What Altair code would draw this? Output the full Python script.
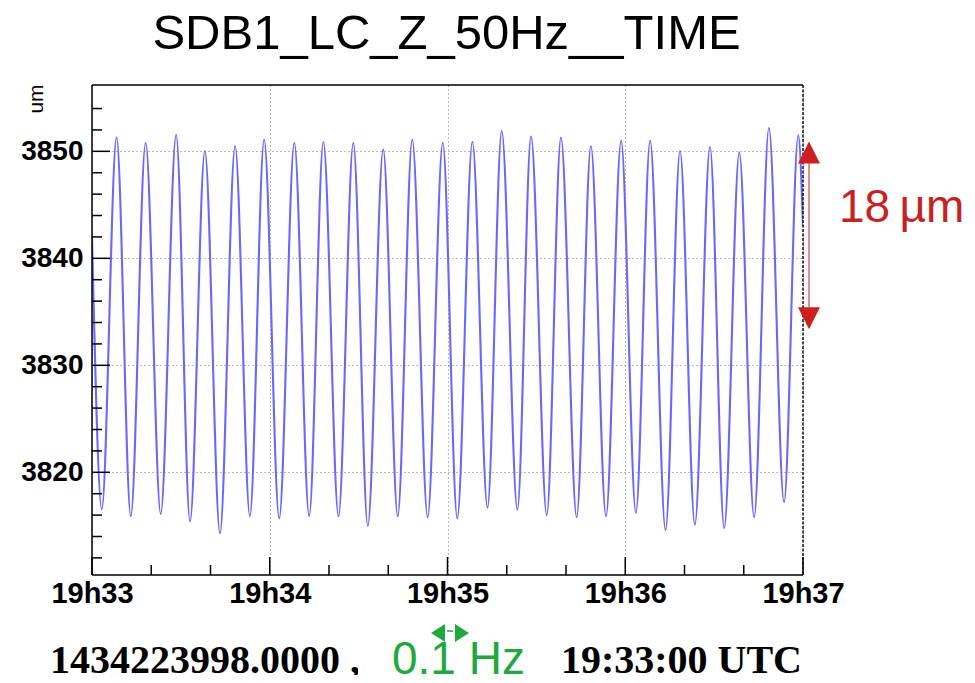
import altair as alt
import pandas as pd

# ---------------- data ----------------
title_text = "SDB1_LC_Z_50Hz__TIME"
y_unit = "um"

x_tick_seconds = [0, 60, 120, 180, 240]
x_tick_labels = ["19h33", "19h34", "19h35", "19h36", "19h37"]
x_minor_seconds = [20, 40, 80, 100, 140, 160, 200, 220]
y_major = [3820, 3830, 3840, 3850]
y_minor = [3812, 3814, 3816, 3818, 3822, 3824, 3826, 3828, 3832, 3834,
           3836, 3838, 3842, 3844, 3846, 3848, 3852, 3854]

# seconds after 19:33:00 and value (um) of each local maximum / minimum
peak_t = [8.3, 18.1, 28.4, 38.1, 48.3, 58.1, 68.3, 78.1, 88.2, 98.3, 108.1, 118.4,
          128.4, 138.3, 148.2, 158.3, 168.4, 178.6, 188.4, 198.5, 208.6, 218.5, 228.5, 238.4]
peak_v = [3851.3, 3850.8, 3851.55, 3850.05, 3850.5, 3851.1, 3850.8, 3850.9, 3850.8, 3850.2, 3851.1, 3850.8,
          3850.9, 3851.9, 3851.4, 3851.3, 3850.5, 3851.0, 3851.0, 3850.05, 3850.4, 3849.9, 3852.2, 3851.5]
trough_t = [3.3, 13.1, 23.2, 33.1, 43.2, 53.3, 63.2, 73.3, 83.2, 93.1, 103.2, 113.3,
            123.3, 133.5, 143.6, 153.5, 163.6, 173.5, 183.6, 193.6, 203.5, 213.4, 223.5, 233.6]
trough_v = [3816.55, 3815.9, 3816.1, 3815.4, 3814.3, 3815.9, 3815.7, 3815.9, 3815.9, 3815.0, 3815.9, 3815.8,
            3815.7, 3816.7, 3816.5, 3816.0, 3815.8, 3815.9, 3816.2, 3814.6, 3815.1, 3814.8, 3815.8, 3817.2]
edge_t = [0, 240]
edge_v = [3842.0, 3843.0]

arrow_value = "18\u2009µm"
arrow_top_v = 3849.9      # centre of upper arrow head
arrow_bottom_v = 3834.4   # centre of lower arrow head
arrow_line_v = [3849.0, 3835.4]

footer_left = "1434223998.0000 ,"
footer_right = "5 19:33:00 UTC"
freq_text = "0.1 Hz"

# ---------------- layout ----------------
W, H = 711, 490
FONT = "Liberation Sans"

x_scale = alt.Scale(domain=[0, 240], nice=False, zero=False)
y_scale = alt.Scale(domain=[3810.4, 3856.2], nice=False, zero=False)

series = pd.DataFrame({
    "t": edge_t[:1] + peak_t + trough_t + edge_t[1:],
    "v": edge_v[:1] + peak_v + trough_v + edge_v[1:],
}).sort_values("t")

label_list = "[" + ",".join("'%s'" % s for s in x_tick_labels) + "]"

line = alt.Chart(series).mark_line(
    interpolate="monotone", color="#6868ff", strokeWidth=2.1, clip=True
).encode(
    x=alt.X("t:Q", scale=x_scale, axis=alt.Axis(
        values=x_tick_seconds, labelExpr=label_list + "[round(datum.value/60)]",
        title=None, ticks=False, domain=False, grid=True, gridDash=[1, 3],
        gridColor="#777777", gridWidth=1, labelFont=FONT, labelFontSize=29,
        labelFontWeight="bold", labelColor="black", labelPadding=4,
        labelOverlap=False, labelFlush=False)),
    y=alt.Y("v:Q", scale=y_scale, axis=alt.Axis(
        values=y_major, format="d", title=None, ticks=False, domain=False, grid=True,
        gridDash=[1, 3], gridColor="#777777", gridWidth=1, labelFont=FONT,
        labelFontSize=28, labelFontWeight="bold", labelColor="black",
        labelPadding=9)),
)

ymaj = alt.Chart(pd.DataFrame({"v": y_major})).mark_rule(color="black", strokeWidth=1.5).encode(
    y=alt.Y("v:Q", scale=y_scale), x=alt.value(0), x2=alt.value(18))
ymin = alt.Chart(pd.DataFrame({"v": y_minor})).mark_rule(color="black", strokeWidth=1.5).encode(
    y=alt.Y("v:Q", scale=y_scale), x=alt.value(0), x2=alt.value(10))
xmaj = alt.Chart(pd.DataFrame({"t": x_tick_seconds})).mark_rule(color="black", strokeWidth=1.5).encode(
    x=alt.X("t:Q", scale=x_scale), y=alt.value(H), y2=alt.value(H - 18))
xmin = alt.Chart(pd.DataFrame({"t": x_minor_seconds})).mark_rule(color="black", strokeWidth=1.5).encode(
    x=alt.X("t:Q", scale=x_scale), y=alt.value(H), y2=alt.value(H - 10))

one = pd.DataFrame({"k": [0]})
frame_left = alt.Chart(one).mark_rule(color="black", strokeWidth=1.5).encode(
    x=alt.value(0), y=alt.value(0), y2=alt.value(H))
frame_top = alt.Chart(one).mark_rule(color="black", strokeWidth=1.5).encode(
    x=alt.value(0), x2=alt.value(W), y=alt.value(0))
frame_bottom = alt.Chart(one).mark_rule(color="black", strokeWidth=1.5).encode(
    x=alt.value(0), x2=alt.value(W), y=alt.value(H))
frame_right = alt.Chart(one).mark_rule(color="#111111", strokeWidth=1.5, strokeDash=[3, 1.5]).encode(
    x=alt.value(W), y=alt.value(0), y2=alt.value(H))

title = alt.Chart(pd.DataFrame({"s": [title_text]})).mark_text(
    font=FONT, fontSize=49, align="center", baseline="alphabetic", color="black"
).encode(text="s:N", x=alt.value(W / 2 - 1), y=alt.value(-36))

unit = alt.Chart(pd.DataFrame({"s": [y_unit]})).mark_text(
    font=FONT, fontSize=21, angle=270, align="center", baseline="middle", color="black"
).encode(text="s:N", x=alt.value(-55), y=alt.value(14))

# red double arrow with amplitude label
red_line = alt.Chart(pd.DataFrame({"a": [arrow_line_v[0]], "b": [arrow_line_v[1]]})).mark_rule(
    color="#e58c8c", strokeWidth=2).encode(
    x=alt.value(717), y=alt.Y("a:Q", scale=y_scale), y2="b:Q")
red_up = alt.Chart(pd.DataFrame({"v": [arrow_top_v]})).mark_point(
    shape="M0,-1L1,1L-1,1Z", size=484, filled=True, color="#cc2020", opacity=1).encode(
    x=alt.value(717), y=alt.Y("v:Q", scale=y_scale))
red_down = alt.Chart(pd.DataFrame({"v": [arrow_bottom_v]})).mark_point(
    shape="M-1,-1L1,-1L0,1Z", size=484, filled=True, color="#cc2020", opacity=1).encode(
    x=alt.value(717), y=alt.Y("v:Q", scale=y_scale))
red_text = alt.Chart(pd.DataFrame({"s": [arrow_value]})).mark_text(
    font=FONT, fontSize=46, align="left", baseline="alphabetic", color="#c62222"
).encode(text="s:N", x=alt.value(747), y=alt.value(137))

# footer
foot_l = alt.Chart(pd.DataFrame({"s": [footer_left]})).mark_text(
    font="Liberation Serif", fontSize=40, fontWeight="bold", align="left",
    baseline="alphabetic", color="black").encode(text="s:N", x=alt.value(-42), y=alt.value(588))
foot_r = alt.Chart(pd.DataFrame({"s": [footer_right]})).mark_text(
    font="Liberation Serif", fontSize=40, fontWeight="bold", align="right",
    baseline="alphabetic", color="black").encode(text="s:N", x=alt.value(710), y=alt.value(588))
white_box = alt.Chart(one).mark_rect(color="white").encode(
    x=alt.value(266), x2=alt.value(458), y=alt.value(527), y2=alt.value(610))
green = "#1fa83d"
freq = alt.Chart(pd.DataFrame({"s": [freq_text]})).mark_text(
    font=FONT, fontSize=46, align="left", baseline="alphabetic", color=green
).encode(text="s:N", x=alt.value(300), y=alt.value(589))
g_left = alt.Chart(one).mark_point(
    shape="M0.78,-1L0.78,1L-0.78,0Z", size=324, filled=True, color=green, opacity=1).encode(
    x=alt.value(346), y=alt.value(548))
g_right = alt.Chart(one).mark_point(
    shape="M-0.78,-1L-0.78,1L0.78,0Z", size=324, filled=True, color=green, opacity=1).encode(
    x=alt.value(370), y=alt.value(548))
g_dash = alt.Chart(one).mark_rule(color=green, strokeWidth=1.5).encode(
    x=alt.value(355), x2=alt.value(361), y=alt.value(546))

chart = alt.layer(
    line, ymaj, ymin, xmaj, xmin, frame_left, frame_top, frame_bottom, frame_right,
    title, unit, red_line, red_up, red_down, red_text,
    foot_l, foot_r, white_box, freq, g_left, g_right, g_dash,
).properties(
    width=W, height=H,
    autosize=alt.AutoSizeParams(type="none"),
    padding={"left": 84, "top": 77, "right": 164, "bottom": 100},
    background="white",
).configure_view(stroke=None)

chart.save("out.html", embed_options={"renderer": "svg", "actions": False})
